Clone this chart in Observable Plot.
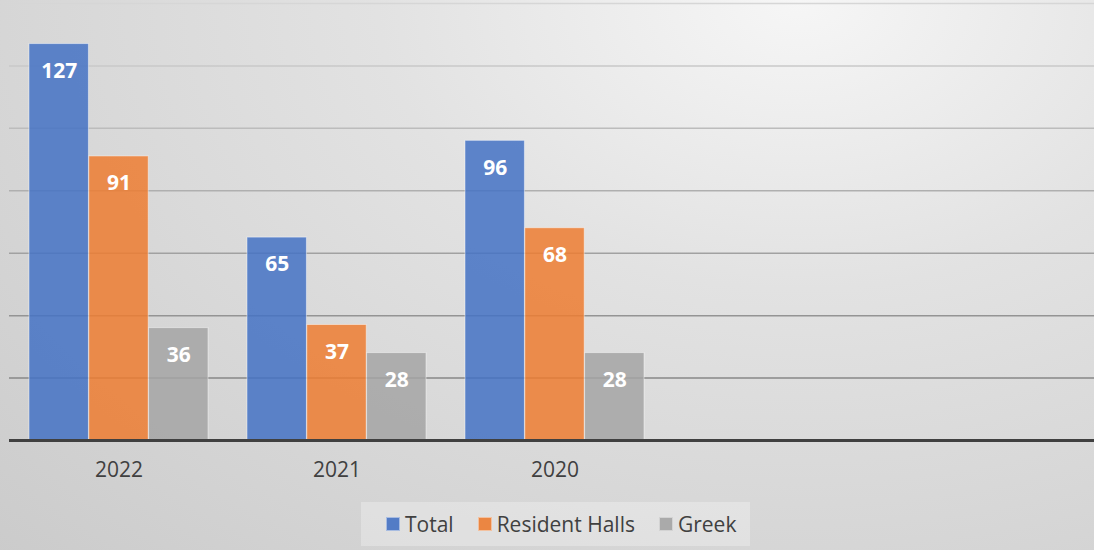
<!DOCTYPE html>
<html><head><meta charset="utf-8">
<script src="https://cdn.jsdelivr.net/npm/d3@7"></script>
<script src="https://cdn.jsdelivr.net/npm/@observablehq/plot@0.6"></script>
<style>
body{margin:0;}
#wrap{width:1094px;height:550px;position:relative;overflow:hidden;
  background:radial-gradient(ellipse 110% 150% at 73% 0%, #f6f6f6 0%, #e2e2e2 35%, #c9c9c9 100%);
  font-family:"Open Sans",sans-serif;}
#chart{position:absolute;left:0;top:0;}
#legend{position:absolute;left:361px;top:502px;width:389px;height:44px;box-sizing:border-box;
  background:rgba(255,255,255,0.28);display:flex;align-items:center;padding-left:25px;gap:24px;
  font-size:21px;color:#404040;}
.item{display:flex;align-items:center;gap:5px;}
.sw{width:14px;height:14px;box-sizing:border-box;border:1px solid rgba(255,255,255,0.5);}
</style>
</head><body>
<div id="wrap"><div id="chart"></div><div id="legend"></div></div>
<script>
const years = ["2022", "2021", "2020"];
const seriesNames = ["Total", "Resident Halls", "Greek"];
const total = [127, 65, 96];
const resident = [91, 37, 68];
const greek = [36, 28, 28];
const yTicks = [0, 20, 40, 60, 80, 100, 120, 140];
const colors = ["#4472C4", "#ED7D31", "#A5A5A5"];

const valuesBySeries = [total, resident, greek];
const data = seriesNames.flatMap((s, i) => years.map((y, j) => ({year: y, series: s, idx: i, value: valuesBySeries[i][j]})));

const x0 = 9.2, step = 218.4, bw = 179.4;
const third = bw / 3;
const padInner = 1 - bw / step, padOuter = padInner / 2;
const gridColor = d3.interpolateRgb("#7a7a7a", "#d6d6d6");

const barMarks = seriesNames.map((s, i) => Plot.barY(data.filter(d => d.idx === i), {
  x: "year", y: "value", fill: colors[i], fillOpacity: 0.85,
  stroke: "#ffffff", strokeOpacity: 0.45, strokeWidth: 1,
  insetLeft: i * third, insetRight: (2 - i) * third
}));
const labelMarks = seriesNames.map((s, i) => Plot.text(data.filter(d => d.idx === i), {
  x: "year", y: "value", text: d => String(d.value), dx: (i - 1) * third, dy: 27,
  fill: "white", fontWeight: "bold", fontSize: 21, lineAnchor: "middle", textAnchor: "middle"
}));

const chart = Plot.plot({
  width: 1094, height: 495,
  marginTop: 3, marginBottom: 55, marginLeft: 9, marginRight: 0,
  style: {background: "transparent", fontFamily: "Open Sans", color: "#404040"},
  x: {type: "band", domain: years, range: [x0, x0 + 3 * step], paddingInner: padInner, paddingOuter: padOuter, align: 0.5, label: null},
  y: {domain: [0, 140], axis: null},
  marks: [
    Plot.ruleY(yTicks.filter(v => v > 0), {y: d => d, stroke: d => gridColor(d / 140), strokeWidth: 1.5}),
    ...barMarks,
    Plot.ruleY([0], {stroke: "#404040", strokeWidth: 3}),
    ...labelMarks,
    Plot.axisX({tickSize: 0, tickPadding: 22, fontSize: 21, fill: "#404040", label: null})
  ]
});
document.getElementById("chart").appendChild(chart);

const legend = document.getElementById("legend");
seriesNames.forEach((s, i) => {
  const it = document.createElement("div"); it.className = "item";
  const sw = document.createElement("div"); sw.className = "sw";
  sw.style.background = colors[i]; sw.style.opacity = 0.9;
  const t = document.createElement("span"); t.textContent = s;
  it.appendChild(sw); it.appendChild(t); legend.appendChild(it);
});
</script>
</body></html>
